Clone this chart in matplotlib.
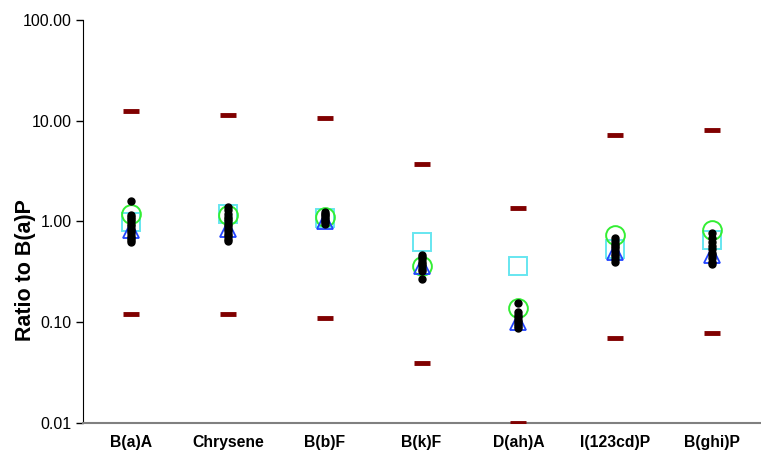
import numpy as np
import matplotlib.pyplot as plt

plt.rcParams['font.family'] = ['Liberation Sans', 'DejaVu Sans']

compounds = ['B(a)A', 'Chrysene', 'B(b)F', 'B(k)F', 'D(ah)A', 'I(123cd)P', 'B(ghi)P']

# upper and lower limits (dark red dashes)
upper = [12.4, 11.5, 10.6, 3.7, 1.35, 7.3, 8.0]
lower = [0.12, 0.12, 0.11, 0.039, 0.01, 0.069, 0.079]

# reference profiles
circles = [1.2, 1.17, 1.12, 0.365, 0.14, 0.74, 0.83]
squares = [0.98, 1.2, 1.08, 0.63, 0.36, 0.53, 0.66]
triangles = [0.83, 0.85, 1.0, 0.36, 0.10, 0.50, 0.47]

# individual sample ratios (black dots)
samples = [
    [1.6, 1.15, 1.1, 1.05, 1.0, 0.95, 0.9, 0.85, 0.8, 0.76, 0.72, 0.68, 0.65, 0.62],
    [1.38, 1.29, 1.2, 1.12, 1.05, 1.0, 0.95, 0.9, 0.85, 0.8, 0.75, 0.71, 0.67, 0.64],
    [1.25, 1.2, 1.15, 1.1, 1.06, 1.02, 0.98, 0.95],
    [0.46, 0.44, 0.42, 0.40, 0.38, 0.36, 0.34, 0.32, 0.27],
    [0.157, 0.125, 0.118, 0.112, 0.106, 0.1, 0.096, 0.092, 0.088],
    [0.68, 0.64, 0.6, 0.57, 0.54, 0.51, 0.48, 0.45, 0.42, 0.40],
    [0.76, 0.68, 0.62, 0.57, 0.53, 0.49, 0.46, 0.43, 0.40, 0.38],
]

fig = plt.figure(figsize=(7.61, 4.5), dpi=100)
ax = fig.add_axes([0.109, 0.06, 0.89, 0.8956])

x = np.arange(len(compounds))

ax.plot(x, upper, ls='none', marker='_', ms=12, mew=3.5, color='#800000', zorder=3)
ax.plot(x, lower, ls='none', marker='_', ms=12, mew=3.5, color='#800000', zorder=3)
ax.plot(x, squares, ls='none', marker='s', ms=13, mfc='none', mec='#66E6F0', mew=1.4, zorder=2)
ax.plot(x, circles, ls='none', marker='o', ms=13.5, mfc='none', mec='#33EE33', mew=1.4, zorder=2)
ax.plot(x, triangles, ls='none', marker='^', ms=12, mfc='none', mec='#2244FF', mew=1.3, zorder=2)
for i, vals in enumerate(samples):
    ax.plot([x[i]] * len(vals), vals, ls='none', marker='o', ms=5, color='black', zorder=4)

ax.set_yscale('log')
ax.set_ylim(0.01, 100)
ax.set_xlim(-0.5, 6.5)
ax.set_yticks([0.01, 0.1, 1, 10, 100])
ax.set_yticklabels(['0.01', '0.10', '1.00', '10.00', '100.00'], fontsize=11.5)
ax.yaxis.set_minor_locator(plt.NullLocator())
ax.set_xticks(x)
ax.set_xticklabels(compounds, fontsize=11.3, fontweight='bold')
ax.tick_params(axis='x', length=0, pad=9)
ax.tick_params(axis='y', length=5, width=1, pad=3)
ax.set_ylabel('Ratio to B(a)P', fontsize=15.5, fontweight='bold')
# label sits below the middle of the axis in the original
ax.yaxis.set_label_coords(-0.07, 0.38)

ax.spines['top'].set_visible(False)
ax.spines['right'].set_visible(False)
ax.spines['bottom'].set_color('#808080')
ax.spines['bottom'].set_linewidth(1.5)

fig.savefig('out.png', dpi=100)
